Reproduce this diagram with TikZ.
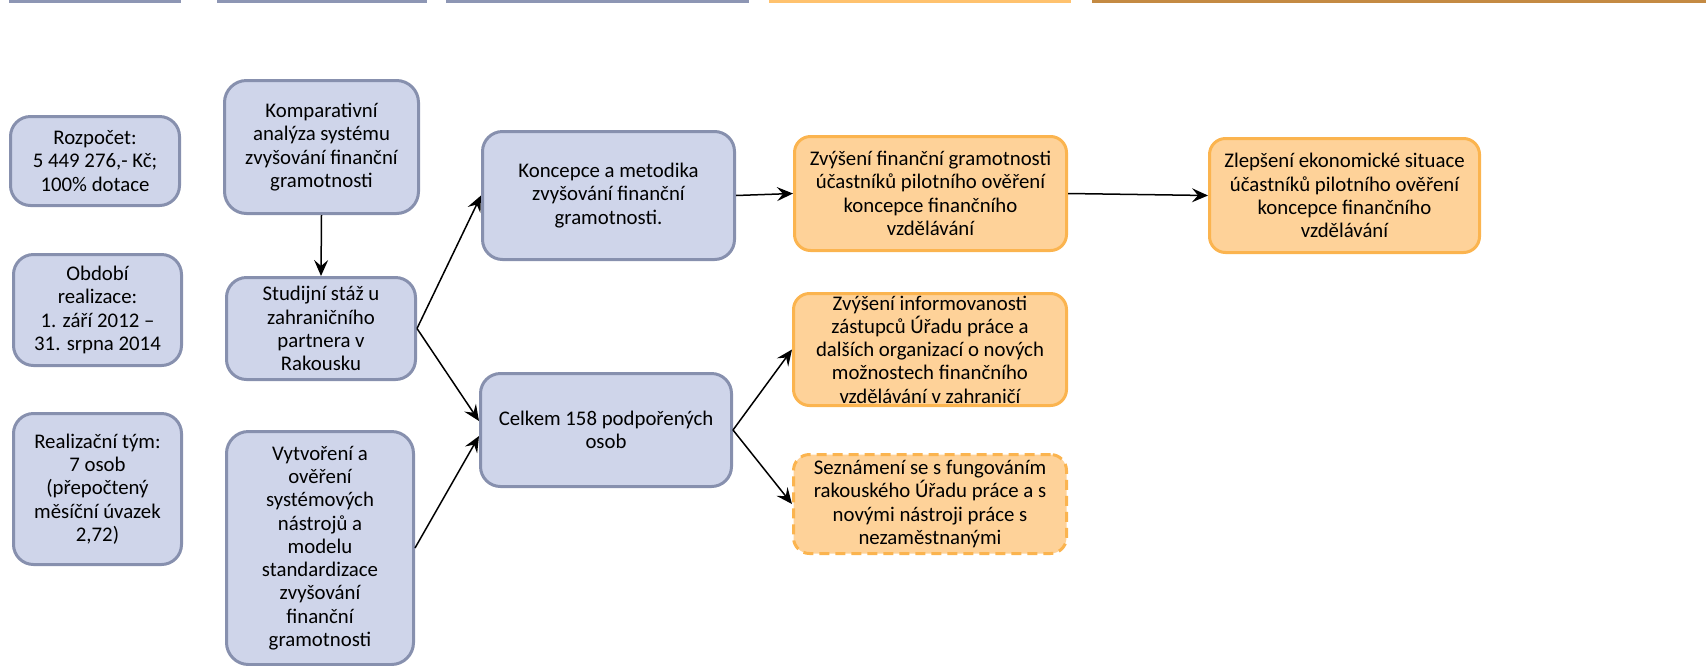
\documentclass[tikz,border=0pt]{standalone}
\usepackage{fontspec}
\setmainfont{Carlito}
\usetikzlibrary{arrows.meta}
\definecolor{boxblue}{HTML}{CFD5EA}
\definecolor{lineblue}{HTML}{8790AE}
\definecolor{boxorange}{HTML}{FED299}
\definecolor{lineorange}{HTML}{FBB44F}
\definecolor{barblue}{HTML}{8D96B4}
\definecolor{barorange}{HTML}{FFC26E}
\definecolor{barbrown}{HTML}{C48A43}
\tikzset{
  bluebox/.style={draw=lineblue, fill=boxblue, line width=1.5pt, rounded corners=10pt,
    align=center, inner sep=0pt, font=\fontsize{10.4}{11.65}\selectfont},
  orangebox/.style={bluebox, draw=lineorange, fill=boxorange, rounded corners=8pt},
  arr/.style={-{Stealth[length=8pt,width=7pt,inset=3pt]}, line width=0.75pt}
}

\begin{document}
\begin{tikzpicture}[x=0.5pt,y=-0.5pt]
  \useasboundingbox (0,0) rectangle (1706,665);
  % bars along the top edge
  \fill[barblue] (9,0) rectangle (181,2.5);
  \fill[barblue] (217,0) rectangle (427,2.5);
  \fill[barblue] (446,0) rectangle (749,2.5);
  \fill[barorange] (769,0) rectangle (1071,2.5);
  \fill[barbrown] (1092,0) rectangle (1706,2.5);

  % inputs
  \node[bluebox, minimum width=84.5pt, minimum height=44.5pt] (rozp) at (95,161)
    {Rozpočet:\\5 449 276,- Kč;\\100\% dotace};
  \node[bluebox, minimum width=84pt, minimum height=55.5pt] (obdobi) at (97.5,310)
    {Období\\realizace:\\1. září 2012 –\\31. srpna 2014};
  \node[bluebox, minimum width=84pt, minimum height=75.5pt] (tym) at (97.5,489)
    {Realizační tým:\\7 osob\\(přepočtený\\měsíční úvazek\\2,72)};

  % activities
  \node[bluebox, minimum width=97pt, minimum height=66.5pt, rounded corners=11pt] (kompar) at (321.5,147)
    {Komparativní\\analýza systému\\zvyšování finanční\\gramotnosti};
  \node[bluebox, minimum width=94.5pt, minimum height=51pt] (staz) at (321,328.5)
    {Studijní stáž u\\zahraničního\\partnera v\\Rakousku};
  \node[bluebox, minimum width=93.5pt, minimum height=116.5pt, rounded corners=11pt] (vytv) at (320,548)
    {Vytvoření a\\ověření\\systémových\\nástrojů a\\modelu\\standardizace\\zvyšování\\finanční\\gramotnosti};

  % outputs
  \node[bluebox, minimum width=126pt, minimum height=64pt] (konc) at (608.5,195.5)
    {Koncepce a metodika\\zvyšování finanční\\gramotnosti.};
  \node[bluebox, minimum width=125.5pt, minimum height=56.5pt] (celk) at (606,430)
    {Celkem 158 podpořených\\osob};

  % results
  \node[orangebox, minimum width=136pt, minimum height=57pt] (zvfin) at (930.5,193.5)
    {Zvýšení finanční gramotnosti\\účastníků pilotního ověření\\koncepce finančního\\vzdělávání};
  \node[orangebox, minimum width=136.5pt, minimum height=56pt] (zvinf) at (930,349.5)
    {Zvýšení informovanosti\\zástupců Úřadu práce a\\dalších organizací o nových\\možnostech finančního\\vzdělávání v zahraničí};
  \node[orangebox, minimum width=136.5pt, minimum height=49.5pt, dash pattern=on 5pt off 3pt] (sezn) at (930,504)
    {Seznámení se s fungováním\\rakouského Úřadu práce a s\\novými nástroji práce s\\nezaměstnanými};
  \node[orangebox, minimum width=135pt, minimum height=57pt] (zlep) at (1344.5,195.5)
    {Zlepšení ekonomické situace\\účastníků pilotního ověření\\koncepce finančního\\vzdělávání};

  % connectors
  \draw[arr] (kompar.south) -- (staz.north);
  \draw[arr] (staz.east) -- (konc.west);
  \draw[arr] (staz.east) -- ([yshift=4.5pt]celk.west);
  \draw[arr] (vytv.east) -- ([yshift=-3pt]celk.west);
  \draw[arr] (konc.east) -- (zvfin.west);
  \draw[arr] (celk.east) -- (zvinf.west);
  \draw[arr] (celk.east) -- (sezn.west);
  \draw[arr] (zvfin.east) -- (zlep.west);
\end{tikzpicture}
\end{document}
